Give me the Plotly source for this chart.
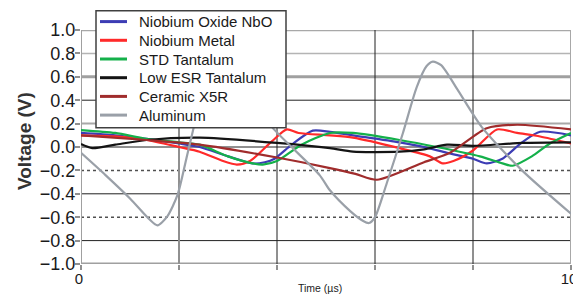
import plotly.graph_objects as go

# ---- data ----
nbo_x = [0, 0.7, 1.34, 2.0, 2.42, 3.0, 3.5, 3.75, 3.95, 4.3, 4.73, 5.08, 5.55, 6.5, 7.0, 7.47, 8.0, 8.28, 8.6, 9.0, 9.37, 10]
nbo_y = [0.12, 0.10, 0.07, 0.03, 0.0, -0.08, -0.14, -0.13, -0.10, 0.02, 0.14, 0.13, 0.10, 0.04, 0.0, -0.05, -0.10, -0.14, -0.10, 0.04, 0.13, 0.10]

met_x = [0, 0.7, 1.34, 2.0, 2.42, 2.9, 3.18, 3.45, 3.9, 4.2, 4.44, 5.08, 5.55, 6.5, 7.12, 7.38, 7.6, 8.0, 8.49, 8.9, 9.37, 10]
met_y = [0.10, 0.09, 0.06, 0.0, -0.04, -0.12, -0.15, -0.12, 0.05, 0.15, 0.12, 0.10, 0.08, -0.01, -0.08, -0.14, -0.12, -0.03, 0.15, 0.12, 0.09, 0.03]

std_x = [0, 0.7, 1.34, 2.0, 2.42, 3.0, 3.5, 3.71, 4.0, 4.5, 5.08, 5.55, 6.5, 7.26, 8.14, 8.6, 8.81, 9.2, 9.57, 10]
std_y = [0.145, 0.12, 0.07, 0.04, 0.02, -0.08, -0.14, -0.15, -0.12, 0.02, 0.12, 0.12, 0.06, 0.0, -0.08, -0.14, -0.16, -0.08, 0.03, 0.12]

esr_x = [0, 0.23, 0.7, 1.34, 2.42, 4.0, 5.08, 5.55, 6.5, 7.0, 7.47, 8.0, 9.02, 10]
esr_y = [0.025, -0.01, 0.02, 0.06, 0.08, 0.035, -0.01, -0.04, -0.04, -0.02, 0.02, 0.01, 0.035, 0.04]

cer_x = [0, 1.34, 2.42, 4.0, 5.08, 5.6, 6.04, 7.0, 7.53, 8.28, 8.9, 10]
cer_y = [0.10, 0.06, 0.02, -0.09, -0.18, -0.23, -0.28, -0.13, -0.05, 0.16, 0.19, 0.15]

alu_x = [0, 0.5, 1.0, 1.4, 1.56, 1.75, 1.97, 2.15, 2.36, 2.55, 2.75, 2.9, 3.05, 3.4, 3.9, 4.87, 5.08, 5.5, 5.75, 5.88, 6.0, 6.24,
         6.57, 6.85, 7.05, 7.18, 7.35, 7.7, 8.18, 9.0, 10]
alu_y = [-0.05, -0.24, -0.44, -0.62, -0.67, -0.60, -0.41, -0.10, 0.27, 0.55, 0.70, 0.72, 0.69, 0.47, 0.17, -0.24, -0.37, -0.55, -0.63, -0.65, -0.60, -0.31,
         0.12, 0.51, 0.69, 0.73, 0.70, 0.48, 0.17, -0.20, -0.57]

series_names = ["Niobium Oxide NbO", "Niobium Metal", "STD Tantalum", "Low ESR Tantalum", "Ceramic X5R", "Aluminum"]
series_x = [nbo_x, met_x, std_x, esr_x, cer_x, alu_x]
series_y = [nbo_y, met_y, std_y, esr_y, cer_y, alu_y]
series_colors = ["#3c3cb4", "#ff2a2a", "#14b04a", "#141414", "#a02c2c", "#9aa0a8"]

x_ticks = [0, 2, 4, 6, 8, 10]
x_ticktext = ["0", "", "", "", "", "10"]

# gridline styling (value, color, width, dash)
h_grid = [(1.0, "#a8a8a8", 2.5, "solid"), (0.8, "#b4b4b4", 1.5, "solid"), (0.6, "#a0a0a0", 3, "solid"),
          (0.4, "#202020", 1, "solid"), (0.2, "#a8a8a8", 2, "solid"), (0.0, "#202020", 1, "solid"),
          (-0.2, "#505050", 1.5, "dot"), (-0.4, "#202020", 1, "solid"), (-0.6, "#505050", 1.5, "dot"),
          (-0.8, "#202020", 1, "solid"), (-1.0, "#a0a0a0", 3, "solid")]
v_grid = [(0, "#a0a0a0", 2), (2, "#909090", 2), (4, "#202020", 1), (6, "#202020", 1), (8, "#202020", 1), (10, "#a8a8a8", 2)]

# page geometry: the browser page has an 8px body margin, so the figure is
# sized to fill the 581x296 window exactly after that offset
OFF = 8
W, H = 581 - OFF, 296 - OFF
ML, MR, MT, MB = 81 - OFF, 10, 30 - OFF, 32
PW, PH = W - ML - MR, H - MT - MB


def px_x(p):
    # reference-window pixel -> paper coordinate
    return (p - OFF - ML) / PW


def px_y(p):
    return (H - MB - (p - OFF)) / PH


fig = go.Figure()
for name, xs, ys, col in zip(series_names, series_x, series_y, series_colors):
    fig.add_trace(go.Scatter(x=xs, y=ys, name=name, mode="lines", showlegend=False,
                             line=dict(color=col, width=2.2, shape="spline", smoothing=0.7)))

shapes = []
for v, c, w, d in h_grid:
    shapes.append(dict(type="line", xref="x", yref="y", x0=0, x1=10, y0=v, y1=v,
                       line=dict(color=c, width=w, dash=d), layer="below"))
for v, c, w in v_grid:
    shapes.append(dict(type="line", xref="x", yref="y", x0=v, x1=v, y0=-1, y1=1,
                       line=dict(color=c, width=w), layer="below"))

# legend key box
LEG_L, LEG_R, LEG_T, LEG_B = 96, 286, 10.7, 127.7
shapes.append(dict(type="rect", xref="paper", yref="paper",
                   x0=px_x(LEG_L), x1=px_x(LEG_R), y0=px_y(LEG_B), y1=px_y(LEG_T),
                   fillcolor="white", line=dict(color="#404040", width=1.5), layer="above"))
annotations = []
for i, (name, col) in enumerate(zip(series_names, series_colors)):
    cy = 21.6 + 18.7 * i
    shapes.append(dict(type="line", xref="paper", yref="paper",
                       x0=px_x(100), x1=px_x(127), y0=px_y(cy), y1=px_y(cy),
                       line=dict(color=col, width=3), layer="above"))
    annotations.append(dict(text=name, xref="paper", yref="paper", x=px_x(137), y=px_y(cy),
                            xanchor="left", yanchor="middle", showarrow=False,
                            font=dict(size=15, color="#1a1a1a", family="Liberation Sans, Arial, sans-serif")))

annotations += [
    dict(text="<b>Voltage (V)</b>", textangle=-90, xref="paper", yref="paper",
         x=px_x(24), y=px_y(141), xanchor="center", yanchor="middle", showarrow=False,
         font=dict(size=19, color="#333333")),
    dict(text="Time (µs)", xref="paper", yref="paper", x=px_x(320), y=px_y(288),
         xanchor="center", yanchor="middle", showarrow=False, font=dict(size=10.5, color="#222222")),
]

fig.update_layout(
    width=W, height=H,
    margin=dict(l=ML, r=MR, t=MT, b=MB, autoexpand=False),
    paper_bgcolor="white", plot_bgcolor="white",
    font=dict(family="Liberation Sans, Arial, sans-serif", color="#1a1a1a"),
    shapes=shapes,
    annotations=annotations,
    showlegend=False,
    xaxis=dict(range=[0, 10], tickvals=x_ticks, ticktext=x_ticktext, showgrid=False, zeroline=False,
               ticks="outside", ticklen=5, tickcolor="#909090", tickwidth=1.5, ticklabelstandoff=-4,
               ticklabelshift=-2, ticklabeloverflow="allow",
               tickfont=dict(size=15, family="Liberation Sans, Arial, sans-serif"), showline=False),
    yaxis=dict(range=[-1, 1], dtick=0.2, tickformat=".1f", showgrid=False, zeroline=False,
               ticks="outside", ticklen=5, tickcolor="#909090", tickwidth=1.5, ticklabelstandoff=-4,
               tickfont=dict(size=18, family="Liberation Sans, Arial, sans-serif"), showline=False),
)

fig.write_html("out.html")
